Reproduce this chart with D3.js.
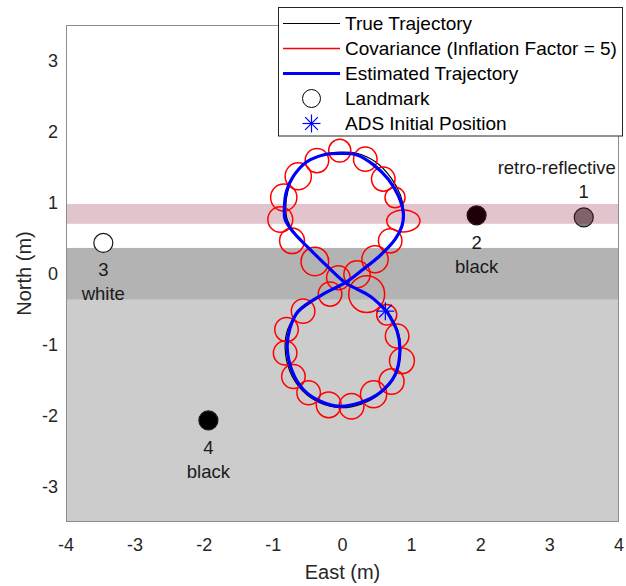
<!DOCTYPE html>
<html>
<head>
<meta charset="utf-8">
<script src="https://cdn.jsdelivr.net/npm/d3@7"></script>
<style>
  html, body { margin: 0; padding: 0; background: #fff; }
  svg { display: block; font-family: "Liberation Sans", Arial, Helvetica, sans-serif; }
</style>
</head>
<body>
<svg id="chart" width="626" height="586"></svg>
<script>
// Axis ticks (metres)
const xTicks = [-4, -3, -2, -1, 0, 1, 2, 3, 4];
const yTicks = [-3, -2, -1, 0, 1, 2, 3];

// Floor zones along North (m)
const zoneNames = ["light floor", "dark floor", "reflective strip"];
const zoneLow   = [-3.5, -0.37, 0.70];
const zoneHigh  = [-0.37, 0.36, 0.98];

// Landmarks
const landmarkId    = ["1", "2", "3", "4"];
const landmarkType  = ["retro-reflective", "black", "white", "black"];
const landmarkEast  = [3.49, 1.94, -3.46, -1.94];
const landmarkNorth = [0.79, 0.82, 0.43, -2.07];

// Estimated trajectory (East, North), one closed figure-eight lap
const estEast  = [0.64, 0.40, 0.21, 0.04, -0.23, -0.47, -0.71, -0.83, -0.84, -0.81, -0.71, -0.52, -0.28, -0.04, 0.21, 0.45, 0.66, 0.81, 0.88, 0.86, 0.76, 0.54, 0.30, 0.04, -0.28, -0.64, -0.76, -0.80, -0.73, -0.57, -0.32, -0.04, 0.25, 0.54, 0.76, 0.83, 0.79, 0.64];
const estNorth = [-0.53, -0.32, -0.22, -0.13, 0.11, 0.34, 0.58, 0.76, 0.95, 1.16, 1.37, 1.57, 1.67, 1.69, 1.67, 1.53, 1.33, 1.09, 0.85, 0.67, 0.48, 0.25, 0.06, -0.13, -0.29, -0.53, -0.77, -1.04, -1.37, -1.63, -1.80, -1.87, -1.82, -1.68, -1.43, -1.10, -0.81, -0.53];

// True trajectory (East, North)
const trueEast  = [0.62, 0.40, 0.21, 0.04, -0.22, -0.45, -0.68, -0.80, -0.82, -0.79, -0.70, -0.51, -0.27, -0.03, 0.22, 0.48, 0.70, 0.84, 0.89, 0.86, 0.76, 0.54, 0.30, 0.04, -0.28, -0.64, -0.79, -0.83, -0.76, -0.58, -0.33, -0.03, 0.27, 0.56, 0.77, 0.84, 0.80, 0.62];
const trueNorth = [-0.52, -0.32, -0.23, -0.13, 0.10, 0.33, 0.56, 0.76, 0.95, 1.16, 1.38, 1.57, 1.68, 1.71, 1.69, 1.57, 1.35, 1.10, 0.85, 0.66, 0.47, 0.25, 0.06, -0.13, -0.30, -0.55, -0.78, -1.05, -1.38, -1.65, -1.82, -1.89, -1.84, -1.68, -1.43, -1.10, -0.81, -0.52];

// Covariance ellipses (inflated): centre and semi-axes, metres
const covEast  = [-0.04, -0.37, 0.33, -0.64, 0.59, -0.85, 0.76, -0.90, 0.88, -0.73, 0.69, -0.40, 0.47, -0.06, 0.21, -0.18, 0.35, -0.57, 0.64, -0.81, 0.79, -0.83, 0.86, -0.71, 0.71, -0.49, 0.45, -0.20, 0.13];
const covNorth = [1.73, 1.59, 1.61, 1.37, 1.33, 1.07, 1.07, 0.76, 0.74, 0.46, 0.46, 0.17, 0.20, -0.06, -0.01, -0.29, -0.29, -0.53, -0.58, -0.79, -0.88, -1.12, -1.23, -1.45, -1.52, -1.68, -1.70, -1.85, -1.87];
const covSemiE = [0.16, 0.17, 0.17, 0.19, 0.17, 0.19, 0.145, 0.18, 0.24, 0.18, 0.17, 0.20, 0.19, 0.17, 0.19, 0.17, 0.26, 0.17, 0.145, 0.17, 0.17, 0.17, 0.18, 0.17, 0.18, 0.17, 0.19, 0.18, 0.18];
const covSemiN = [0.16, 0.17, 0.17, 0.19, 0.17, 0.19, 0.145, 0.18, 0.155, 0.18, 0.17, 0.20, 0.19, 0.17, 0.19, 0.17, 0.26, 0.17, 0.145, 0.17, 0.17, 0.17, 0.18, 0.17, 0.18, 0.17, 0.19, 0.18, 0.18];

// ADS initial position
const adsEast = 0.62;
const adsNorth = -0.53;

// Legend entries
const legendLabels = ["True Trajectory", "Covariance (Inflation Factor = 5)", "Estimated Trajectory", "Landmark", "ADS Initial Position"];

const svg = d3.select("#chart");
const plotL = 66, plotR = 619, plotT = 25, plotB = 522;

const x = d3.scaleLinear().domain([-4, 4]).range([plotL, plotR]);
const y = d3.scaleLinear().domain([-3.5, 3.5]).range([plotB, plotT]);

svg.append("defs").append("clipPath").attr("id", "plotClip")
  .append("rect").attr("x", plotL).attr("y", plotT)
  .attr("width", plotR - plotL).attr("height", plotB - plotT);

const plot = svg.append("g").attr("clip-path", "url(#plotClip)");

plot.append("rect").attr("x", plotL).attr("y", plotT)
  .attr("width", plotR - plotL).attr("height", plotB - plotT).attr("fill", "#ffffff");

// Grey floor zones
const zoneFill = ["#cccccc", "#b3b3b3"];
[0, 1].forEach(i => {
  plot.append("rect")
    .attr("x", plotL).attr("width", plotR - plotL)
    .attr("y", y(zoneHigh[i])).attr("height", y(zoneLow[i]) - y(zoneHigh[i]))
    .attr("fill", zoneFill[i]);
});

// Landmarks
const lmFill = ["#808080", "#000000", "#ffffff", "#000000"];
const lmG = plot.append("g");
landmarkId.forEach((id, i) => {
  lmG.append("circle")
    .attr("cx", x(landmarkEast[i])).attr("cy", y(landmarkNorth[i]))
    .attr("r", 9.5)
    .attr("fill", lmFill[i]).attr("stroke", "#1a1a1a").attr("stroke-width", 1.2);
});

// Reflective strip (translucent, tints what lies beneath)
plot.append("rect")
  .attr("x", plotL).attr("width", plotR - plotL)
  .attr("y", y(zoneHigh[2])).attr("height", y(zoneLow[2]) - y(zoneHigh[2]))
  .attr("fill", "rgb(128,0,40)").attr("fill-opacity", 0.23);

// Landmark labels
const labelG = svg.append("g").attr("font-size", 18.5).attr("fill", "#1a1a1a").attr("text-anchor", "middle");
landmarkId.forEach((id, i) => {
  const cx = x(landmarkEast[i]), cy = y(landmarkNorth[i]);
  if (i === 0) {
    labelG.append("text").attr("x", cx).attr("y", cy - 26).attr("dy", "0.35em").text(id);
    labelG.append("text").attr("x", cx - 27).attr("y", cy - 50).attr("dy", "0.35em").text(landmarkType[i]);
  } else {
    labelG.append("text").attr("x", cx).attr("y", cy + 27).attr("dy", "0.35em").text(id);
    labelG.append("text").attr("x", cx).attr("y", cy + 51).attr("dy", "0.35em").text(landmarkType[i]);
  }
});

const line = d3.line().x(d => x(d[0])).y(d => y(d[1])).curve(d3.curveCatmullRom.alpha(0.5));

// True trajectory
plot.append("path")
  .attr("d", line(d3.zip(trueEast, trueNorth)))
  .attr("fill", "none").attr("stroke", "#000").attr("stroke-width", 1.2);

// Covariance ellipses
plot.append("g").selectAll("ellipse")
  .data(d3.range(covEast.length))
  .join("ellipse")
  .attr("cx", i => x(covEast[i])).attr("cy", i => y(covNorth[i]))
  .attr("rx", i => x(covSemiE[i]) - x(0))
  .attr("ry", i => y(0) - y(covSemiN[i]))
  .attr("fill", "none").attr("stroke", "#ff0000").attr("stroke-width", 1.5);

// Estimated trajectory
plot.append("path")
  .attr("d", line(d3.zip(estEast, estNorth)))
  .attr("fill", "none").attr("stroke", "#0000ff").attr("stroke-width", 3.2);

// Asterisk marker
function asterisk(g, cx, cy, r) {
  const d = r * Math.SQRT1_2;
  const segs = [[-r, 0, r, 0], [0, -r, 0, r], [-d, -d, d, d], [-d, d, d, -d]];
  segs.forEach(s => g.append("line")
    .attr("x1", cx + s[0]).attr("y1", cy + s[1]).attr("x2", cx + s[2]).attr("y2", cy + s[3])
    .attr("stroke", "#0000ff").attr("stroke-width", 1.2));
}
asterisk(plot.append("g"), x(adsEast), y(adsNorth), 9);

// Axes box
svg.append("rect").attr("x", plotL + 0.5).attr("y", plotT + 0.5)
  .attr("width", plotR - plotL - 1).attr("height", plotB - plotT - 1)
  .attr("fill", "none").attr("stroke", "#8c8c8c").attr("stroke-width", 1);

// Tick labels
const tickG = svg.append("g").attr("font-size", 18).attr("fill", "#262626");
xTicks.forEach(t => tickG.append("text").attr("x", x(t)).attr("y", 545).attr("dy", "0.35em")
  .attr("text-anchor", "middle").text(t));
yTicks.forEach(t => tickG.append("text").attr("x", 58).attr("y", y(t)).attr("dy", "0.35em")
  .attr("text-anchor", "end").text(t));

// Axis titles
svg.append("text").attr("x", (plotL + plotR) / 2).attr("y", 572).attr("dy", "0.35em")
  .attr("text-anchor", "middle").attr("font-size", 20).attr("fill", "#262626").text("East (m)");
svg.append("text").attr("transform", `translate(24,${(plotT + plotB) / 2}) rotate(-90)`)
  .attr("dy", "0.35em").attr("text-anchor", "middle").attr("font-size", 20).attr("fill", "#262626").text("North (m)");

// Legend
const lg = svg.append("g");
lg.append("rect").attr("x", 278.5).attr("y", 7.5).attr("width", 344).attr("height", 128.5)
  .attr("fill", "#fff").attr("stroke", "#262626").attr("stroke-width", 1);
const rowY = [23.5, 48.5, 73.5, 98.5, 123.5];
legendLabels.forEach((lab, i) => {
  const ry = rowY[i];
  if (i === 0) lg.append("line").attr("x1", 283).attr("x2", 340).attr("y1", ry).attr("y2", ry).attr("stroke", "#000").attr("stroke-width", 1);
  if (i === 1) lg.append("line").attr("x1", 283).attr("x2", 340).attr("y1", ry).attr("y2", ry).attr("stroke", "#ff0000").attr("stroke-width", 1.5);
  if (i === 2) lg.append("line").attr("x1", 283).attr("x2", 340).attr("y1", ry).attr("y2", ry).attr("stroke", "#0000ff").attr("stroke-width", 3);
  if (i === 3) lg.append("circle").attr("cx", 311.5).attr("cy", ry).attr("r", 9).attr("fill", "none").attr("stroke", "#000").attr("stroke-width", 1);
  if (i === 4) asterisk(lg, 311.5, ry, 9);
  lg.append("text").attr("x", 345).attr("y", ry).attr("dy", "0.35em")
    .attr("font-size", 19).attr("fill", "#000").text(lab);
});
</script>
</body>
</html>
